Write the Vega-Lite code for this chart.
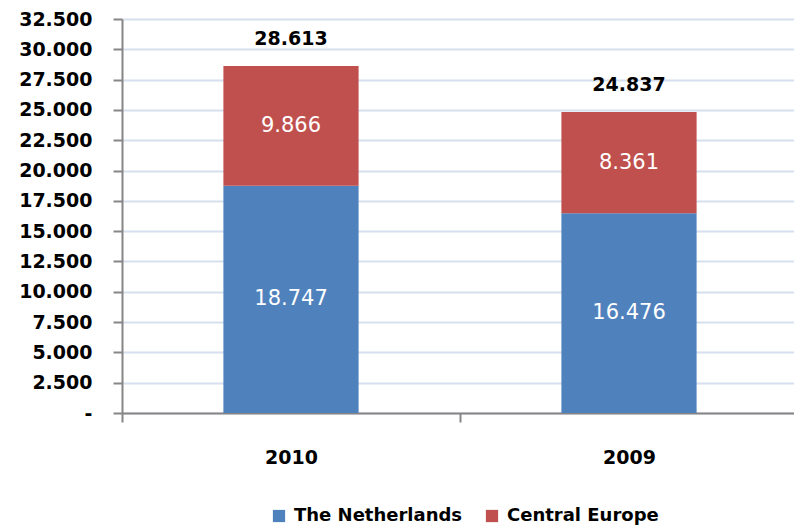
{
  "$schema": "https://vega.github.io/schema/vega-lite/v6.json",
  "autosize": "none",
  "width": 676,
  "height": 394,
  "padding": {"left": 122, "top": 19, "right": 0, "bottom": 117},
  "background": "white",
  "config": {"view": {"stroke": null}, "font": "DejaVu Sans",
    "locale": {"number": {"decimal": ",", "thousands": ".", "grouping": [3], "currency": ["", " €"]}}},
  "data": {"values": [
    {"year": "2010", "region": "The Netherlands", "k": 1, "value": 18747},
    {"year": "2010", "region": "Central Europe", "k": 2, "value": 9866},
    {"year": "2009", "region": "The Netherlands", "k": 1, "value": 16476},
    {"year": "2009", "region": "Central Europe", "k": 2, "value": 8361}
  ]},
  "encoding": {
    "x": {"field": "year", "type": "nominal", "sort": null,
      "scale": {"paddingInner": 0, "paddingOuter": 0},
      "axis": {"title": null, "tickBand": "extent", "domainColor": "#868686", "domainWidth": 2, "tickColor": "#868686", "tickWidth": 2, "tickSize": 9, "labelAngle": 0, "labelFont": "DejaVu Sans", "labelFontWeight": "bold", "labelFontSize": 19, "labelColor": "#000000", "labelPadding": 26, "grid": false}}
  },
  "layer": [
    {
      "mark": {"type": "bar", "width": {"band": 0.4}},
      "encoding": {
        "y": {"field": "value", "type": "quantitative", "stack": "zero",
          "scale": {"domain": [0, 32500], "nice": false, "zero": true},
          "axis": {"title": null, "values": [0,2500,5000,7500,10000,12500,15000,17500,20000,22500,25000,27500,30000,32500],
            "labelExpr": "datum.value == 0 ? '-' : format(datum.value, ',')",
            "labelOverlap": false, "labelBound": false, "labelFlush": false,
            "domainColor": "#868686", "domainWidth": 2, "tickColor": "#868686", "tickWidth": 2, "tickSize": 9,
            "gridColor": "#D6E0EE", "gridWidth": 2,
            "labelFont": "DejaVu Sans", "labelFontWeight": "bold", "labelFontSize": 19, "labelColor": "#000000", "labelPadding": 21}},
        "color": {"field": "region", "type": "nominal", "sort": ["The Netherlands", "Central Europe"],
          "scale": {"domain": ["The Netherlands", "Central Europe"], "range": ["#4F81BD", "#C0504D"]},
          "legend": {"title": null, "orient": "none", "direction": "horizontal", "legendX": 148, "legendY": 488,
            "symbolType": "square", "symbolSize": 150, "symbolStrokeWidth": 0, "symbolOpacity": 1, "labelLimit": 400,
            "labelFont": "DejaVu Sans", "labelFontSize": 18, "labelColor": "#000000", "labelFontWeight": "bold", "columnPadding": 20, "labelOffset": 6}},
        "order": {"field": "k", "type": "quantitative"}
      }
    },
    {
      "transform": [
        {"stack": "value", "groupby": ["year"], "sort": [{"field": "k"}], "as": ["v0", "v1"]},
        {"calculate": "(datum.v0 + datum.v1) / 2", "as": "mid"}
      ],
      "mark": {"type": "text", "color": "white", "fontSize": 21, "font": "DejaVu Sans", "baseline": "middle"},
      "encoding": {
        "y": {"field": "mid", "type": "quantitative",
          "scale": {"domain": [0, 32500], "nice": false, "zero": true},
          "axis": {"title": null, "values": [0,2500,5000,7500,10000,12500,15000,17500,20000,22500,25000,27500,30000,32500],
            "labelExpr": "datum.value == 0 ? '-' : format(datum.value, ',')",
            "labelOverlap": false, "labelBound": false, "labelFlush": false,
            "domainColor": "#868686", "domainWidth": 2, "tickColor": "#868686", "tickWidth": 2, "tickSize": 9,
            "gridColor": "#D6E0EE", "gridWidth": 2,
            "labelFont": "DejaVu Sans", "labelFontWeight": "bold", "labelFontSize": 19, "labelColor": "#000000", "labelPadding": 21}},
        "text": {"field": "value", "type": "quantitative", "format": ","}
      }
    },
    {
      "transform": [{"aggregate": [{"op": "sum", "field": "value", "as": "total"}], "groupby": ["year"]}],
      "mark": {"type": "text", "color": "black", "fontSize": 19, "fontWeight": "bold", "font": "DejaVu Sans", "baseline": "middle", "dy": -27},
      "encoding": {
        "y": {"field": "total", "type": "quantitative",
          "scale": {"domain": [0, 32500], "nice": false, "zero": true},
          "axis": {"title": null, "values": [0,2500,5000,7500,10000,12500,15000,17500,20000,22500,25000,27500,30000,32500],
            "labelExpr": "datum.value == 0 ? '-' : format(datum.value, ',')",
            "labelOverlap": false, "labelBound": false, "labelFlush": false,
            "domainColor": "#868686", "domainWidth": 2, "tickColor": "#868686", "tickWidth": 2, "tickSize": 9,
            "gridColor": "#D6E0EE", "gridWidth": 2,
            "labelFont": "DejaVu Sans", "labelFontWeight": "bold", "labelFontSize": 19, "labelColor": "#000000", "labelPadding": 21}},
        "text": {"field": "total", "type": "quantitative", "format": ","}
      }
    }
  ]
}
